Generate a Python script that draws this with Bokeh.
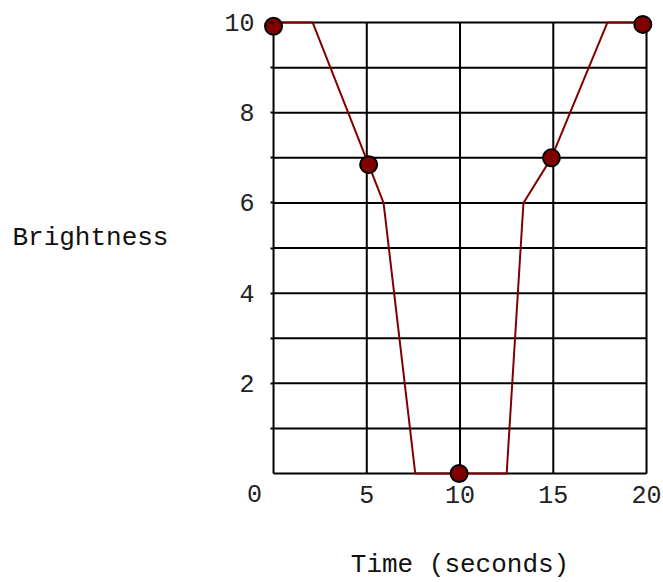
from bokeh.plotting import figure
from bokeh.models import Range1d, FixedTicker, Label, LinearAxis
from bokeh.embed import file_html
from bokeh.resources import INLINE

# Data
line_time = [0, 2.1, 5.1, 5.9, 7.6, 12.5, 13.4, 14.9, 17.9, 20]
line_brightness = [10, 10, 6.85, 6.0, 0, 0, 6.0, 7.0, 10, 10]
point_time = [0, 5.1, 9.95, 14.9, 19.8]
point_brightness = [9.92, 6.85, 0, 7.0, 9.96]
x_ticks = [5, 10, 15, 20]
y_ticks = [2, 4, 6, 8, 10]
y_minor = [1, 3, 5, 7, 9]
grid_x = [0, 5, 10, 15, 20]
grid_y = [0, 1, 2, 3, 4, 5, 6, 7, 8, 9, 10]
x_min, x_max = 0, 20
y_min, y_max = 0, 10

FONT = "Liberation Mono"

p = figure(width=663, height=582, output_backend="svg", toolbar_location=None,
           x_range=Range1d(-14.64, 20.91), y_range=Range1d(-2.417, 10.49),
           x_axis_location=None, y_axis_location=None, min_border=0)
p.background_fill_color = "white"
p.border_fill_color = "white"
p.outline_line_color = None
p.grid.visible = False

# grid lines (incl. axis lines and border)
p.segment(x0=grid_x, y0=[y_min] * len(grid_x), x1=grid_x, y1=[y_max] * len(grid_x),
          line_color="black", line_width=2)
p.segment(x0=[x_min] * len(grid_y), y0=grid_y, x1=[x_max] * len(grid_y), y1=grid_y,
          line_color="black", line_width=2)

# axes
xax = LinearAxis(ticker=FixedTicker(ticks=x_ticks), fixed_location=0, bounds=(x_min, x_max))
yax = LinearAxis(ticker=FixedTicker(ticks=y_ticks, minor_ticks=y_minor), fixed_location=0,
                 bounds=(y_min, y_max))
for ax in (xax, yax):
    ax.axis_line_color = None
    ax.major_label_text_font = FONT
    ax.major_label_text_font_size = "25px"
    ax.major_label_text_color = "#222222"
    ax.major_tick_line_color = "black"
    ax.minor_tick_line_color = "black"
    ax.major_tick_line_width = 2
    ax.minor_tick_line_width = 2
xax.major_tick_out = 0
xax.major_tick_in = 0
xax.minor_tick_out = 0
xax.minor_tick_in = 0
xax.major_label_standoff = 12
yax.major_tick_out = 3
yax.major_tick_in = 0
yax.minor_tick_out = 3
yax.minor_tick_in = 0
yax.major_label_standoff = 16

xax.axis_label = "Time (seconds)"
xax.axis_label_text_font = FONT
xax.axis_label_text_font_size = "26px"
xax.axis_label_text_font_style = "normal"
xax.axis_label_text_color = "#111111"
xax.axis_label_standoff = 44
p.add_layout(xax, "below")
p.add_layout(yax, "left")

# data
p.line(line_time, line_brightness, line_color="#800000", line_width=2)
p.scatter(point_time, point_brightness, size=17, fill_color="#800000",
          line_color="black", line_width=2)

# extra labels
p.add_layout(Label(x=-1.02, y=-0.44, text="0", text_font=FONT, text_font_size="25px",
                   text_color="#222222", text_align="center", text_baseline="middle"))
p.add_layout(Label(x=-14.0, y=5.23, text="Brightness", text_font=FONT,
                   text_font_size="26px", text_color="#111111",
                   text_align="left", text_baseline="middle"))

open("out.html", "w").write(file_html(p, INLINE))
